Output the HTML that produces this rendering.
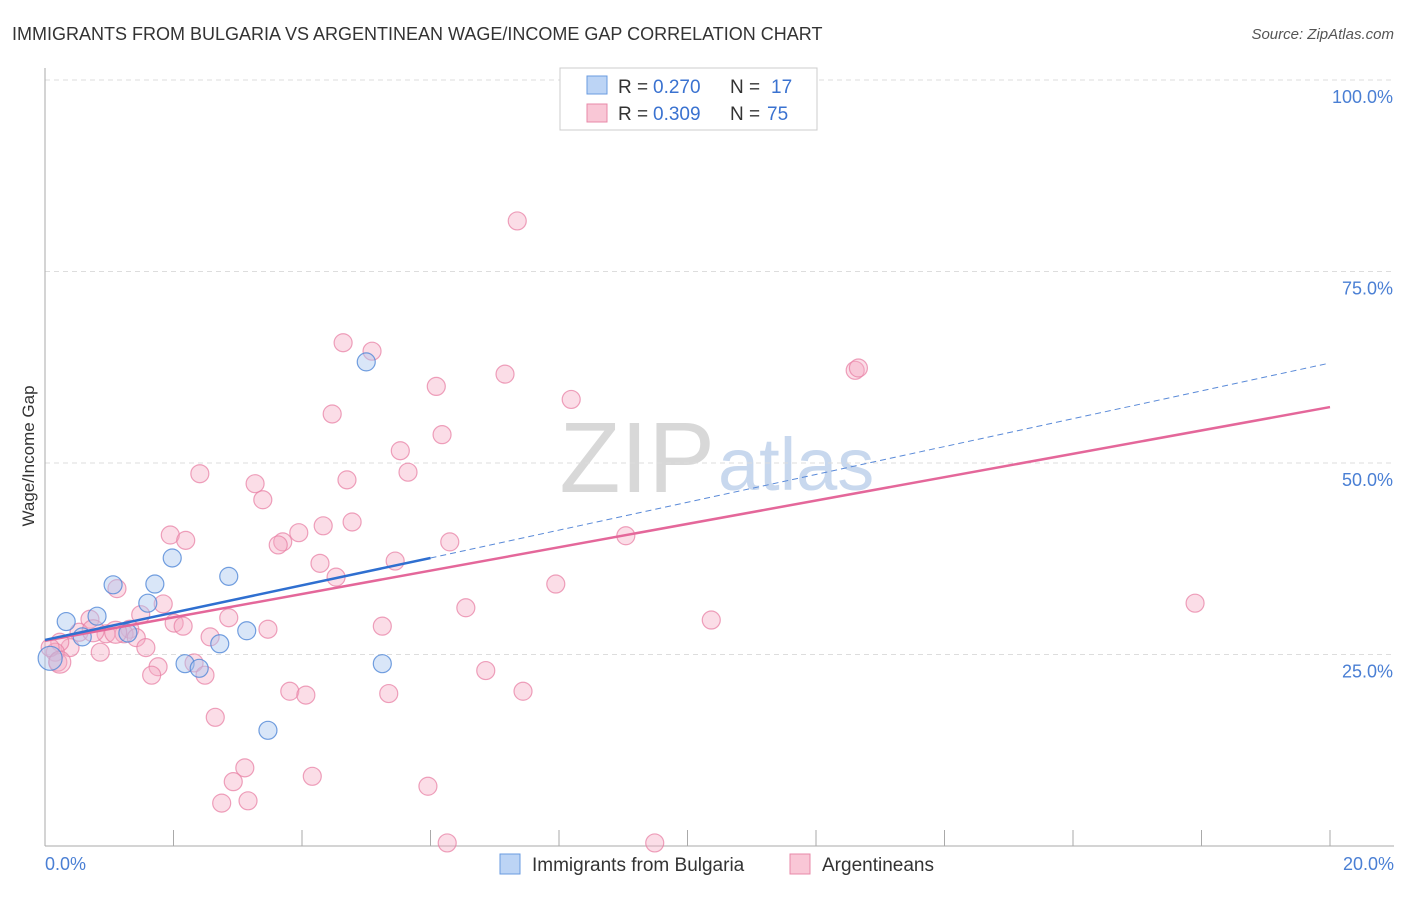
<!DOCTYPE html>
<html><head><meta charset="utf-8"><style>
body{margin:0;background:#fff;font-family:"Liberation Sans",sans-serif;}
svg text{font-family:"Liberation Sans",sans-serif;}
</style></head><body>
<svg id="c" width="1406" height="892">
<text x="12" y="40" font-size="18" fill="#333">IMMIGRANTS FROM BULGARIA VS ARGENTINEAN WAGE/INCOME GAP CORRELATION CHART</text>
<text x="1394" y="39" font-size="15" fill="#555" text-anchor="end" font-style="italic">Source: ZipAtlas.com</text>
<text x="34" y="456" font-size="17" fill="#333" text-anchor="middle" transform="rotate(-90 34 456)">Wage/Income Gap</text>
<text x="715" y="492" font-size="100" fill="#d8d8d8" text-anchor="end" font-family="Liberation Serif">ZIP</text>
<text x="718" y="490" font-size="74" fill="#c8d8ee">atlas</text>
<g id="grid"></g><g id="pts"></g><g id="lines"></g>
<g>
<rect x="560" y="68" width="257" height="62" fill="#fff" stroke="#ccc"/>
<rect x="587" y="76" width="20" height="18" fill="#bcd4f5" stroke="#6a9be0"/>
<text x="618" y="93" font-size="19" fill="#333">R =</text>
<text x="653" y="93" font-size="19" fill="#3a72d0">0.270</text>
<text x="730" y="93" font-size="19" fill="#333">N =</text>
<text x="771" y="93" font-size="19" fill="#3a72d0">17</text>
<rect x="587" y="104" width="20" height="18" fill="#f9c7d6" stroke="#e889a8"/>
<text x="618" y="120" font-size="19" fill="#333">R =</text>
<text x="653" y="120" font-size="19" fill="#3a72d0">0.309</text>
<text x="730" y="120" font-size="19" fill="#333">N =</text>
<text x="767" y="120" font-size="19" fill="#3a72d0">75</text>
</g>
<g>
<rect x="500" y="854" width="20" height="20" fill="#bcd4f5" stroke="#6a9be0"/>
<text x="532" y="871" font-size="19" fill="#333">Immigrants from Bulgaria</text>
<rect x="790" y="854" width="20" height="20" fill="#f9c7d6" stroke="#e889a8"/>
<text x="822" y="871" font-size="19" fill="#333">Argentineans</text>
</g>
</svg>
<script>
const yTicks=[25,50,75,100];
const xTickLabels=["0.0%","20.0%"];
const blueX=[0.08,0.33,0.58,0.81,1.06,1.29,1.6,1.71,1.98,2.18,2.4,2.72,2.86,3.14,3.47,5.0,5.25];
const blueY=[24.5,29.3,27.3,30.0,34.1,27.8,31.7,34.2,37.6,23.8,23.2,26.4,35.2,28.1,15.1,63.2,23.8];
const pinkX=[7.35,4.64,5.09,12.61,12.66,7.16,6.09,8.19,4.47,6.18,5.53,5.65,4.7,3.27,2.41,3.39,4.78,4.33,3.95,1.95,2.19,3.7,3.63,9.04,6.3,4.28,5.45,4.53,7.95,1.12,17.9,1.84,6.55,1.49,0.7,2.01,10.37,2.86,5.25,3.47,1.32,0.53,0.95,2.15,1.23,1.42,2.57,1.57,0.86,0.39,0.23,0.16,0.2,0.08,1.76,1.66,2.32,2.49,6.86,3.81,4.06,5.35,7.44,2.65,3.11,2.93,4.16,5.96,2.75,3.16,6.26,9.49,0.75,1.1,0.23];
const pinkY=[81.6,65.7,64.6,62.1,62.4,61.6,60.0,58.3,56.4,53.7,51.6,48.8,47.8,47.3,48.6,45.2,42.3,41.8,40.9,40.6,39.9,39.7,39.3,40.5,39.7,36.9,37.2,35.1,34.2,33.6,31.7,31.6,31.1,30.2,29.6,29.1,29.5,29.8,28.7,28.3,28.3,27.9,27.7,28.7,27.7,27.2,27.3,25.9,25.3,25.9,26.6,25.3,24.0,25.9,23.4,22.3,23.9,22.3,22.9,20.2,19.7,19.9,20.2,16.8,10.2,8.4,9.1,7.8,5.6,5.9,0.4,0.4,28.1,27.9,24.0];
const blueLine=[[0,26.9],[6,37.6]], blueDash=[[6,37.6],[19.97,63.0]], pinkLine=[[0,26.8],[20,57.3]];
const X=v=>45+v/20*1285, Y=v=>846-v/100*766;
const NS="http://www.w3.org/2000/svg";
function mk(t,a,p){const e=document.createElementNS(NS,t);for(const k in a)e.setAttribute(k,a[k]);p.appendChild(e);return e;}
const g=document.getElementById('grid');
yTicks.forEach(t=>{const l=mk('line',{x1:45,x2:1394,y1:Y(t),y2:Y(t),stroke:'#ddd','stroke-dasharray':'5,4'},g);


const tx=mk('text',{x:1393,y:Y(t)+23,'font-size':18,fill:'#4a7fd4','text-anchor':'end'},g);tx.textContent=t.toFixed(1)+'%';

});
mk('line',{x1:45,x2:45,y1:68,y2:846,stroke:'#aaa'},g);
mk('line',{x1:45,x2:1394,y1:846,y2:846,stroke:'#aaa'},g);
for(let i=1;i<=10;i++){const t=mk('line',{x1:X(i*2),x2:X(i*2),y1:830,y2:846,stroke:'#aaa'},g);

}
[[0,45,'start'],[20,1394,'end']].forEach((d,i)=>{const t=mk('text',{x:d[1],y:870,'font-size':18,fill:'#4a7fd4','text-anchor':d[2]},g);t.textContent=xTickLabels[i];

});
const p=document.getElementById('pts');
pinkX.forEach((x,i)=>{const c=mk('circle',{cx:X(x),cy:Y(pinkY[i]),r:i>=72?11:9,fill:'rgba(246,170,195,0.4)',stroke:'rgba(232,130,165,0.75)','stroke-width':1.2},p);

});
blueX.forEach((x,i)=>{const c=mk('circle',{cx:X(x),cy:Y(blueY[i]),r:i==0?12:9,fill:'rgba(170,200,240,0.45)',stroke:'rgba(80,135,215,0.8)','stroke-width':1.2},p);

});
const L=document.getElementById('lines');
function ln(d,col,w,dash,name){const e=mk('line',{x1:X(d[0][0]),y1:Y(d[0][1]),x2:X(d[1][0]),y2:Y(d[1][1]),stroke:col,'stroke-width':w},L);if(dash)e.setAttribute('stroke-dasharray',dash);

}
ln(pinkLine,'#e4679a',2.5,null,'argentineans-trend-line');
ln(blueLine,'#2f6fd0',2.5,null,'bulgaria-trend-line');
ln(blueDash,'#5a8ad8',1,'6,4','bulgaria-trend-extension');
</script>
</body></html>
